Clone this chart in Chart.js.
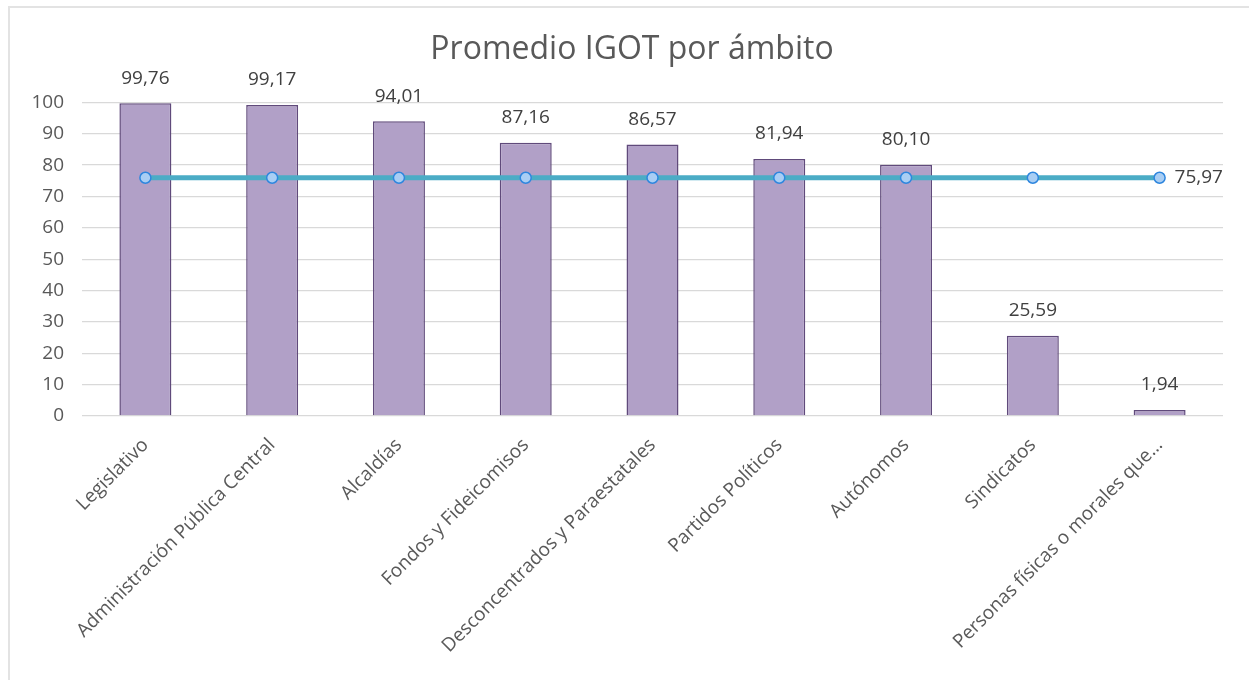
<!DOCTYPE html>
<html>
<head>
<meta charset="utf-8">
<script src="https://cdn.jsdelivr.net/npm/chart.js@4"></script>
<style>
  html, body { margin: 0; padding: 0; background: #fff; overflow: hidden; }
  #frame { position: absolute; left: 8px; top: 6px; width: 1300px; height: 700px; border: 2px solid #e3e3e3; box-sizing: border-box; }
  #wrap { position: absolute; left: 0; top: 0; width: 1249px; height: 680px; }
</style>
</head>
<body>
<div id="frame"></div>
<div id="wrap"><canvas id="c" width="1249" height="680"></canvas></div>
<script>
const categories = [
  "Legislativo",
  "Administración Pública Central",
  "Alcaldías",
  "Fondos y Fideicomisos",
  "Desconcentrados y Paraestatales",
  "Partidos Políticos",
  "Autónomos",
  "Sindicatos",
  "Personas físicas o morales que…"
];
const promedio = [99.76, 99.17, 94.01, 87.16, 86.57, 81.94, 80.10, 25.59, 1.94];
const promedioGeneral = [75.97, 75.97, 75.97, 75.97, 75.97, 75.97, 75.97, 75.97, 75.97];
const yTicks = [0, 10, 20, 30, 40, 50, 60, 70, 80, 90, 100];
const titleText = "Promedio IGOT por ámbito";

const FONT = "'Open Sans', 'Noto Sans', sans-serif";
const TXT = "#595959";
const fmt = v => v.toFixed(2).replace(".", ",");

const labelPlugin = {
  id: "valueLabels",
  afterDatasetsDraw(chart) {
    const ctx = chart.ctx;
    ctx.save();
    ctx.font = "19px " + FONT;
    ctx.fillStyle = "#404040";
    const barMeta = chart.getDatasetMeta(0);
    ctx.textAlign = "center";
    ctx.textBaseline = "middle";
    barMeta.data.forEach((el, i) => {
      ctx.fillText(fmt(promedio[i]), el.x, el.y - 25);
    });
    const lineMeta = chart.getDatasetMeta(1);
    const last = lineMeta.data[lineMeta.data.length - 1];
    ctx.textAlign = "left";
    ctx.fillText(fmt(promedioGeneral[promedioGeneral.length - 1]), last.x + 15, last.y);
    ctx.restore();
  }
};

new Chart(document.getElementById("c"), {
  data: {
    labels: categories,
    datasets: [
      {
        type: "bar",
        label: "Promedio",
        data: promedio,
        backgroundColor: "#B1A0C7",
        borderColor: "#604A7B",
        borderWidth: 1.5,
        categoryPercentage: 1,
        barPercentage: 0.41,
        order: 2
      },
      {
        type: "line",
        label: "Promedio general",
        data: promedioGeneral,
        borderColor: "#4BACC6",
        borderWidth: 5,
        pointRadius: 5.5,
        pointBackgroundColor: "#A9CEF4",
        pointBorderColor: "#2E86DE",
        pointBorderWidth: 1.5,
        fill: false,
        tension: 0,
        order: 1
      }
    ]
  },
  options: {
    responsive: false,
    animation: false,
    layout: { padding: { left: 20, right: 5, top: 0, bottom: 0 } },
    plugins: {
      legend: { display: false },
      tooltip: { enabled: false },
      title: {
        display: true,
        text: titleText,
        color: TXT,
        font: { family: FONT, size: 32, weight: "normal" },
        padding: { top: 31, bottom: 33 }
      }
    },
    scales: {
      x: {
        grid: { display: false, drawTicks: false },
        border: { display: false },
        ticks: {
          color: TXT,
          font: { family: FONT, size: 19 },
          maxRotation: 45,
          minRotation: 45,
          autoSkip: false,
          padding: 18
        },
        afterFit(s) { s.height = 264; }
      },
      y: {
        min: 0,
        max: 100,
        afterBuildTicks(s) { s.ticks = yTicks.map(v => ({ value: v })); },
        grid: { color: "#D9D9D9", lineWidth: 1.3, drawTicks: false },
        border: { display: false },
        ticks: {
          color: TXT,
          font: { family: FONT, size: 19 },
          padding: 18
        },
        afterFit(s) { s.width = 62; }
      },
      yRight: {
        position: "right",
        min: 0,
        max: 100,
        grid: { display: false, drawTicks: false },
        border: { display: false },
        ticks: { display: false },
        afterFit(s) { s.width = 21; }
      }
    }
  },
  plugins: [labelPlugin]
});
</script>
</body>
</html>
